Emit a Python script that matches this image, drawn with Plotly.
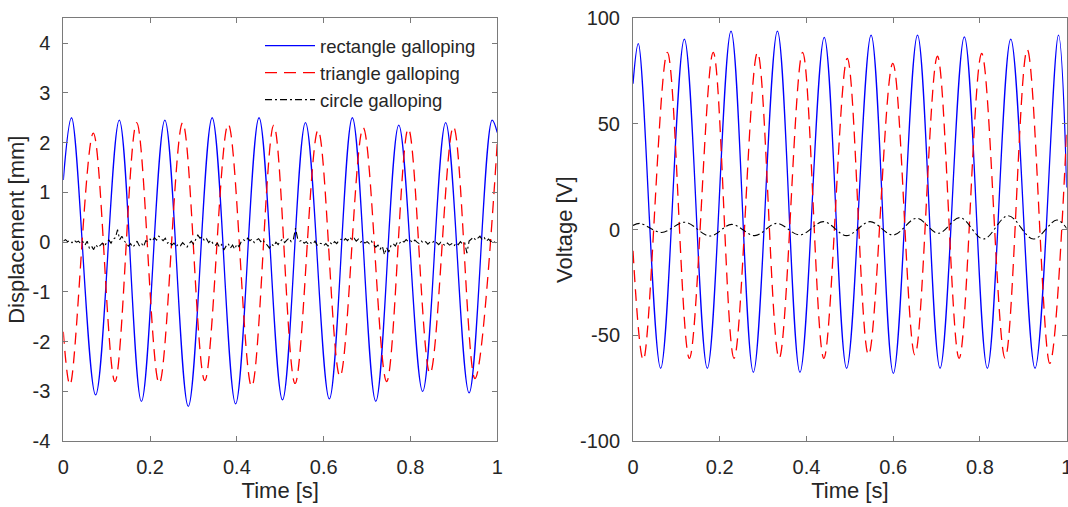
import numpy as np
import plotly.graph_objects as go

# ---------------- data ----------------
# Left panel: displacement [mm]; extremes of each cycle (time [s], value)
rect_disp_t = [0.0, 0.019, 0.0745, 0.129, 0.180, 0.234, 0.288, 0.343, 0.397, 0.451,
               0.505, 0.558, 0.613, 0.666, 0.720, 0.773, 0.828, 0.881, 0.935, 0.988, 1.0]
rect_disp_v = [1.25, 2.50, -3.07, 2.45, -3.20, 2.45, -3.30, 2.50, -3.25, 2.50,
               -3.17, 2.40, -3.15, 2.50, -3.20, 2.35, -3.00, 2.40, -3.03, 2.45, 2.20]

tri_disp_t = [0.0, 0.0154, 0.0691, 0.119, 0.169, 0.221, 0.275, 0.326, 0.380, 0.434,
              0.485, 0.534, 0.587, 0.6375, 0.691, 0.745, 0.795, 0.845, 0.899, 0.9485, 1.0]
tri_disp_v = [-1.80, -2.87, 2.19, -2.80, 2.40, -2.84, 2.40, -2.78, 2.37, -2.90,
              2.35, -2.84, 2.25, -2.70, 2.30, -2.80, 2.28, -2.64, 2.32, -2.74, 2.00]

circ_disp_v = [
    0.02, 0.05, 0.01, 0.03, -0.01, 0.04, 0.00, 0.02, -0.03, 0.01,
    -0.06, 0.02, -0.12, -0.08, -0.15, -0.05, -0.11, -0.07, -0.02, -0.09,
    0.00, 0.04, -0.02, 0.06, 0.09, 0.25, 0.05, 0.12, 0.03, -0.02,
    -0.08, -0.03, -0.10, -0.05, 0.02, -0.07, -0.02, -0.09, 0.03, 0.01,
    0.06, 0.02, 0.09, 0.04, 0.12, 0.07, 0.03, 0.08, -0.02, 0.01,
    -0.06, -0.02, -0.09, -0.04, -0.07, -0.01, -0.05, -0.10, -0.03, 0.02,
    -0.04, 0.05, 0.14, 0.08, 0.11, 0.03, 0.07, -0.01, 0.04, -0.03,
    -0.07, -0.02, -0.10, -0.05, -0.16, -0.08, -0.03, -0.12, -0.06, -0.14,
    -0.04, -0.09, 0.01, 0.05, 0.02, 0.08, 0.03, 0.06, -0.01, 0.04,
    0.07, 0.01, 0.05, -0.03, -0.06, -0.12, -0.04, -0.08, 0.00, -0.05,
    0.02, 0.06, -0.01, 0.04, 0.08, 0.01, 0.05, 0.28, 0.07, 0.02,
    0.04, -0.02, 0.01, -0.05, -0.01, -0.04, 0.02, -0.06, -0.02, -0.03,
    -0.07, -0.03, -0.08, -0.01, -0.05, 0.01, -0.03, 0.03, 0.06, 0.02,
    0.07, 0.03, 0.10, 0.05, 0.08, 0.02, 0.06, 0.00, 0.03, -0.02,
    0.01, -0.03, 0.02, -0.05, -0.10, -0.06, -0.14, -0.08, -0.25, -0.11,
    -0.20, -0.07, -0.03, -0.08, 0.01, -0.02, 0.03, 0.00, 0.05, 0.01,
    0.03, -0.01, 0.04, 0.00, -0.03, 0.02, -0.02, 0.01, -0.04, 0.00,
    -0.02, 0.03, -0.01, -0.05, 0.00, -0.04, -0.07, -0.02, -0.06, -0.03,
    -0.08, -0.02, -0.05, 0.01, -0.04, -0.02, -0.22, 0.02, 0.06, 0.10,
    0.04, 0.08, 0.12, 0.05, 0.09, 0.02, 0.06, 0.01, 0.04, -0.01,
    0.02,
]
circ_disp_t = np.linspace(0.0, 1.0, len(circ_disp_v))

# Right panel: voltage [V]
rect_volt_t = [0.0, 0.0123, 0.0638, 0.1184, 0.1714, 0.226, 0.2775, 0.333, 0.385, 0.441,
               0.4926, 0.549, 0.6003, 0.656, 0.708, 0.764, 0.817, 0.871, 0.927, 0.981, 1.0]
rect_volt_v = [69.0, 88.0, -65.5, 90.1, -65.5, 93.9, -67.4, 93.9, -67.4, 90.9,
               -65.5, 92.0, -67.9, 92.0, -65.5, 91.2, -65.5, 90.1, -65.5, 92.0, 20.0]

tri_volt_t = [0.0, 0.0238, 0.0792, 0.130, 0.185, 0.233, 0.287, 0.337, 0.391, 0.440,
              0.494, 0.543, 0.599, 0.650, 0.702, 0.752, 0.804, 0.858, 0.909, 0.961, 1.0]
tri_volt_v = [-10.0, -61.6, 83.8, -60.8, 83.8, -60.8, 83.8, -60.8, 83.8, -60.8,
              81.0, -59.2, 78.6, -59.2, 82.0, -60.8, 83.3, -60.8, 85.2, -63.2, 47.0]

circ_volt_t = [0.0, 0.016, 0.066, 0.1199, 0.1775, 0.2275, 0.281, 0.3313, 0.385, 0.439,
               0.4926, 0.5465, 0.600, 0.654, 0.704, 0.754, 0.808, 0.865, 0.923, 0.977, 1.0]
circ_volt_v = [2.0, 3.0, -1.3, 3.5, -3.0, 2.5, -2.8, 3.0, -2.5, 3.8,
               -2.8, 3.8, -2.5, 5.4, -1.7, 5.7, -4.4, 6.6, -4.4, 4.6, 0.6]

x_ticks = [0, 0.2, 0.4, 0.6, 0.8, 1]
x_ticklabels = ["0", "0.2", "0.4", "0.6", "0.8", "1"]
disp_ticks = [-4, -3, -2, -1, 0, 1, 2, 3, 4]
disp_ticklabels = ["-4", "-3", "-2", "-1", "0", "1", "2", "3", "4"]
volt_ticks = [-100, -50, 0, 50, 100]
volt_ticklabels = ["-100", "-50", "0", "50", "100"]

names = ["rectangle galloping", "triangle galloping", "circle galloping"]

# ---------------- styles ----------------
BLUE = "rgb(0,0,255)"
RED = "rgb(255,0,0)"
BLACK = "rgb(0,0,0)"
FONT = "Liberation Sans, Arial, sans-serif"
AXC = "#7a7a7a"
TXT = "#262626"

fig = go.Figure()

fig.add_trace(go.Scatter(x=rect_disp_t, y=rect_disp_v, mode="lines", name=names[0],
                         line=dict(color=BLUE, width=1.3, shape="spline"),
                         xaxis="x", yaxis="y"))
fig.add_trace(go.Scatter(x=tri_disp_t, y=tri_disp_v, mode="lines", name=names[1],
                         line=dict(color=RED, width=1.3, dash="12px,7px", shape="spline"),
                         xaxis="x", yaxis="y"))
fig.add_trace(go.Scatter(x=circ_disp_t, y=circ_disp_v, mode="lines", name=names[2],
                         line=dict(color=BLACK, width=1.1, dash="7px,3px,2px,3px"),
                         xaxis="x", yaxis="y"))

fig.add_trace(go.Scatter(x=rect_volt_t, y=rect_volt_v, mode="lines", name=names[0],
                         line=dict(color=BLUE, width=1.3, shape="spline"),
                         xaxis="x2", yaxis="y2", showlegend=False))
fig.add_trace(go.Scatter(x=tri_volt_t, y=tri_volt_v, mode="lines", name=names[1],
                         line=dict(color=RED, width=1.3, dash="12px,7px", shape="spline"),
                         xaxis="x2", yaxis="y2", showlegend=False))
fig.add_trace(go.Scatter(x=circ_volt_t, y=circ_volt_v, mode="lines", name=names[2],
                         line=dict(color=BLACK, width=1.1, dash="7px,3px,2px,3px", shape="spline"),
                         xaxis="x2", yaxis="y2", showlegend=False))

W, H = 1068, 507
ydom = [1 - 441.2 / H, 1 - 18.2 / H]

def xaxis(domain, anchor):
    return dict(domain=domain, anchor=anchor, range=[0, 1], tickvals=x_ticks,
                ticktext=x_ticklabels, ticks="inside", ticklen=5, tickcolor=AXC,
                showline=True, linecolor=AXC, linewidth=1, mirror="allticks",
                showgrid=False, zeroline=False, automargin=False,
                tickfont=dict(family=FONT, size=20, color=TXT),
                ticklabelstandoff=8, ticklabeloverflow="allow",
                title=dict(text="Time [s]", font=dict(family=FONT, size=22, color=TXT), standoff=4))

def yaxis(domain, anchor, rng, tv, tt, title):
    return dict(domain=domain, anchor=anchor, range=rng, tickvals=tv, ticktext=tt,
                ticks="inside", ticklen=5, tickcolor=AXC,
                showline=True, linecolor=AXC, linewidth=1, mirror="allticks",
                showgrid=False, zeroline=False, automargin=False,
                tickfont=dict(family=FONT, size=20, color=TXT),
                ticklabelstandoff=8, ticklabeloverflow="allow",
                title=dict(text=title, font=dict(family=FONT, size=22, color=TXT), standoff=1))

fig.update_layout(
    width=W, height=H,
    margin=dict(l=0, r=0, t=0, b=0, autoexpand=False),
    paper_bgcolor="white", plot_bgcolor="white",
    xaxis=xaxis([63.3 / W, 497.3 / W], "y"),
    yaxis=yaxis(ydom, "x", [-4, 4.5], disp_ticks, disp_ticklabels, "Displacement [mm]"),
    xaxis2=xaxis([633 / W, 1066.7 / W], "y2"),
    yaxis2=yaxis(ydom, "x2", [-100, 100], volt_ticks, volt_ticklabels, "Voltage [V]"),
    legend=dict(x=260 / W, y=1 - 27 / H, xanchor="left", yanchor="top",
                bgcolor="rgba(0,0,0,0)", borderwidth=0, itemwidth=50,
                font=dict(family=FONT, size=18.5, color=TXT)),
    showlegend=True,
)

fig.write_html("out.html",
               config={"displayModeBar": False},
               post_script="document.body.style.margin='0px';document.body.style.overflow='hidden';")
